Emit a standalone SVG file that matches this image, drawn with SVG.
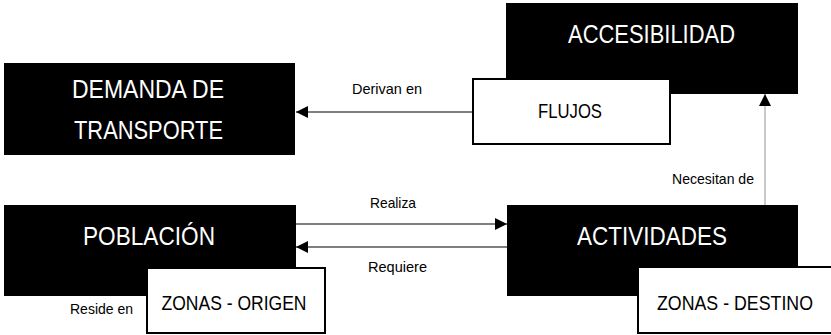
<svg xmlns="http://www.w3.org/2000/svg" width="831" height="335" viewBox="0 0 831 335">
<style>
.blk{fill:#000;}
.wht{fill:#fff;stroke:#000;stroke-width:2;}
.big{font-family:"Liberation Sans",Arial,sans-serif;font-size:25.5px;fill:#fff;text-anchor:middle;}
.mid{font-family:"Liberation Sans",Arial,sans-serif;font-size:21px;fill:#000;text-anchor:middle;}
.lbl{font-family:"Liberation Sans",Arial,sans-serif;font-size:14.5px;fill:#000;text-anchor:middle;}
.conn{stroke:#000;stroke-width:1.2;fill:none;}
.conn.gray{stroke:#a6a6a6;}
</style>
<defs>
<marker id="arr" markerUnits="userSpaceOnUse" markerWidth="12" markerHeight="12" refX="12" refY="6" orient="auto">
<path d="M0,0 L12,6 L0,12 z" fill="#000"/>
</marker>
</defs>
<g id="demanda">
<rect class="blk" x="4" y="63" width="291" height="92"/>
<text class="big" x="148" y="98" textLength="152" lengthAdjust="spacingAndGlyphs">DEMANDA DE</text>
<text class="big" x="148.5" y="139" textLength="149" lengthAdjust="spacingAndGlyphs">TRANSPORTE</text>
</g>
<g id="accesibilidad">
<rect class="blk" x="506" y="3" width="292" height="91"/>
<text class="big" x="651.5" y="43" textLength="167" lengthAdjust="spacingAndGlyphs">ACCESIBILIDAD</text>
</g>
<g id="flujos">
<rect class="wht" x="473" y="79" width="197" height="65"/>
<text class="mid" x="570" y="118" textLength="64" lengthAdjust="spacingAndGlyphs">FLUJOS</text>
</g>
<g id="poblacion">
<rect class="blk" x="4" y="205" width="292" height="91"/>
<text class="big" x="149" y="244.5" textLength="132" lengthAdjust="spacingAndGlyphs">POBLACIÓN</text>
</g>
<g id="zonas-origen">
<rect class="wht" x="147" y="268" width="178" height="65"/>
<text class="mid" x="234" y="310" textLength="145" lengthAdjust="spacingAndGlyphs">ZONAS - ORIGEN</text>
</g>
<g id="actividades">
<rect class="blk" x="507" y="205" width="291" height="91"/>
<text class="big" x="652" y="245" textLength="150" lengthAdjust="spacingAndGlyphs">ACTIVIDADES</text>
</g>
<g id="zonas-destino">
<rect class="wht" x="638" y="267" width="194" height="66"/>
<text class="mid" x="735" y="310" textLength="156" lengthAdjust="spacingAndGlyphs">ZONAS - DESTINO</text>
</g>
<g id="connectors">
<line class="conn" x1="473" y1="112" x2="296" y2="112" marker-end="url(#arr)"/>
<line class="conn gray" x1="765" y1="205" x2="765" y2="94" marker-end="url(#arr)"/>
<line class="conn" x1="296" y1="224" x2="507" y2="224" marker-end="url(#arr)"/>
<line class="conn" x1="507" y1="247" x2="296" y2="247" marker-end="url(#arr)"/>
<text class="lbl" x="387" y="94" textLength="70" lengthAdjust="spacingAndGlyphs">Derivan en</text>
<text class="lbl" x="713" y="184" textLength="82" lengthAdjust="spacingAndGlyphs">Necesitan de</text>
<text class="lbl" x="393" y="208" textLength="46" lengthAdjust="spacingAndGlyphs">Realiza</text>
<text class="lbl" x="397.5" y="272" textLength="59" lengthAdjust="spacingAndGlyphs">Requiere</text>
<text class="lbl" x="101.5" y="314" textLength="63" lengthAdjust="spacingAndGlyphs">Reside en</text>
</g>
</svg>
